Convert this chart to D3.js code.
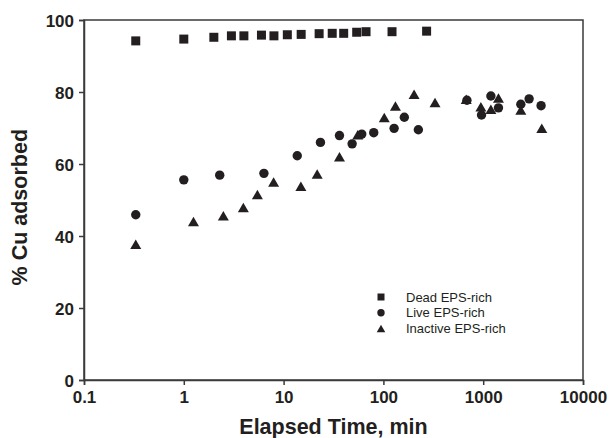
<!DOCTYPE html>
<html>
<head>
<meta charset="utf-8">
<script src="https://cdn.jsdelivr.net/npm/d3@7"></script>
<style>
  body { margin: 0; background: #fff; }
  text { font-family: "Liberation Sans", Arial, sans-serif; fill: #231f20; }
</style>
</head>
<body>
<div id="chart"></div>
<script>
// Elapsed time (min) and % Cu adsorbed
var deadTime = [0.33, 1, 2, 3, 4, 6, 8, 10.9, 15, 22.7, 30.7, 40, 54, 67, 122, 271];
var deadCu   = [94.2, 94.7, 95.2, 95.6, 95.6, 95.8, 95.6, 95.9, 96.0, 96.2, 96.3, 96.3, 96.6, 96.75, 96.75, 96.9];

var liveTime = [0.33, 1, 2.29, 6.35, 13.7, 23.4, 36.3, 48.6, 60.7, 80, 128, 162, 224, 687, 962, 1194, 1422, 2382, 2884, 3802];
var liveCu   = [45.9, 55.6, 56.9, 57.4, 62.3, 66.0, 67.9, 65.6, 68.3, 68.7, 69.9, 73.0, 69.5, 77.7, 73.6, 78.9, 75.6, 76.6, 78.1, 76.2];

var inactTime = [0.33, 1.25, 2.49, 3.95, 5.46, 7.94, 14.9, 21.7, 36.3, 55.3, 102, 132, 203, 329, 676, 948, 1194, 1422, 2382, 3864];
var inactCu   = [37.7, 44.0, 45.6, 47.9, 51.5, 55.0, 53.8, 57.2, 62.0, 68.1, 72.9, 76.1, 79.4, 77.1, 78.0, 75.9, 75.2, 78.3, 75.0, 69.9];

var seriesNames = ["Dead EPS-rich", "Live EPS-rich", "Inactive EPS-rich"];
var xTicks = [0.1, 1, 10, 100, 1000, 10000];
var yTicks = [0, 20, 40, 60, 80, 100];

var width = 612, height = 438;
var margin = {top: 20, right: 29, bottom: 58, left: 84};
var ink = "#231f20", axisInk = "#3a3a3a";

var svg = d3.select("#chart").append("svg")
    .attr("width", width)
    .attr("height", height);

var x = d3.scaleLog().domain([0.1, 10000]).range([margin.left, width - margin.right]);
var y = d3.scaleLinear().domain([0, 100]).range([height - margin.bottom, margin.top]);

// frame (top + right)
svg.append("rect")
    .attr("x", x(0.1)).attr("y", y(100))
    .attr("width", x(10000) - x(0.1)).attr("height", y(0) - y(100))
    .attr("fill", "none").attr("stroke", axisInk).attr("stroke-width", 1.5);

var xAxis = svg.append("g")
    .attr("transform", "translate(0," + y(0) + ")")
    .call(d3.axisBottom(x).tickValues(xTicks).tickFormat(d3.format("~g")).tickSize(5).tickPadding(6));

var yAxis = svg.append("g")
    .attr("transform", "translate(" + x(0.1) + ",0)")
    .call(d3.axisLeft(y).tickValues(yTicks).tickSize(5).tickPadding(5));

[xAxis, yAxis].forEach(function(a) {
    a.select(".domain").attr("stroke", axisInk).attr("stroke-width", 1.5);
    a.selectAll(".tick line").attr("stroke", axisInk).attr("stroke-width", 1.5);
    a.selectAll(".tick text")
        .attr("fill", ink)
        .style("font-size", "17px")
        .style("font-weight", "bold")
        .style("font-family", "'Liberation Sans', Arial, sans-serif");
});
yAxis.selectAll(".tick text").attr("dy", "0.36em");

// axis titles
svg.append("text")
    .attr("x", (x(0.1) + x(10000)) / 2)
    .attr("y", 434)
    .attr("text-anchor", "middle")
    .style("font-size", "21.5px").style("font-weight", "bold")
    .text("Elapsed Time, min");

svg.append("text")
    .attr("transform", "translate(27," + (y(48)) + ") rotate(-90)")
    .attr("text-anchor", "middle")
    .style("font-size", "21.5px").style("font-weight", "bold")
    .text("% Cu adsorbed");

// marker shapes
function square(s) { return "M" + (-s/2) + "," + (-s/2) + "h" + s + "v" + s + "h" + (-s) + "Z"; }
function triangle(w, h) { return "M0," + (-h/2) + "L" + (w/2) + "," + (h/2) + "L" + (-w/2) + "," + (h/2) + "Z"; }

svg.append("g").selectAll("path")
    .data(d3.zip(deadTime, deadCu))
    .enter().append("path")
    .attr("transform", function(d) { return "translate(" + x(d[0]) + "," + y(d[1]) + ")"; })
    .attr("d", square(9))
    .attr("fill", ink);

svg.append("g").selectAll("circle")
    .data(d3.zip(liveTime, liveCu))
    .enter().append("circle")
    .attr("cx", function(d) { return x(d[0]); })
    .attr("cy", function(d) { return y(d[1]); })
    .attr("r", 4.7)
    .attr("fill", ink);

svg.append("g").selectAll("path")
    .data(d3.zip(inactTime, inactCu))
    .enter().append("path")
    .attr("transform", function(d) { return "translate(" + x(d[0]) + "," + y(d[1]) + ")"; })
    .attr("d", triangle(11, 9.5))
    .attr("fill", ink);

// legend
var legendShapes = [square(7), null, triangle(8.5, 7.5)];
var legend = svg.append("g").selectAll("g")
    .data(seriesNames)
    .enter().append("g")
    .attr("transform", function(d, i) { return "translate(381," + (297 + i * 15.8) + ")"; });

legend.each(function(d, i) {
    var g = d3.select(this);
    if (legendShapes[i]) g.append("path").attr("d", legendShapes[i]).attr("fill", ink);
    else g.append("circle").attr("r", 3.7).attr("fill", ink);
    g.append("text")
        .attr("x", 25).attr("dy", "0.36em")
        .style("font-size", "13px")
        .text(d);
});
</script>
</body>
</html>
